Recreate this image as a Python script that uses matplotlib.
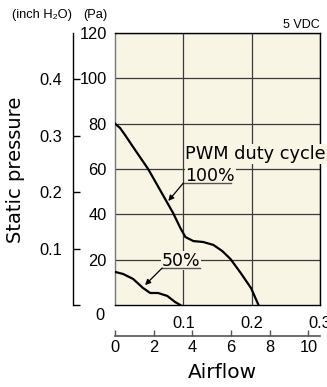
import matplotlib
matplotlib.use('Agg')
import matplotlib.pyplot as plt

plt.rcParams['font.family'] = ['Liberation Sans', 'DejaVu Sans']

# PWM 100% curve (airflow m3/min, static pressure Pa)
flow_100 = [0, 0.0074, 0.0147, 0.0265, 0.0485, 0.066, 0.085, 0.0956, 0.103,
            0.1147, 0.129, 0.144, 0.157, 0.169, 0.184, 0.199, 0.21]
pres_100 = [80, 78.1, 75, 69.7, 60, 50.7, 40.6, 34, 30,
            28.2, 27.8, 26.5, 23.8, 20.3, 14.1, 7.5, 0]
# PWM 50% curve
flow_50 = [0, 0.0118, 0.0265, 0.041, 0.0515, 0.063, 0.0765, 0.088, 0.0956]
pres_50 = [14.6, 13.7, 11.5, 7.5, 5.3, 5.3, 4.0, 1.3, 0]

pa_ticks = [20, 40, 60, 80, 100, 120]
inch_ticks = [0, 0.1, 0.2, 0.3, 0.4]
inch_labels = ['', '0.1', '0.2', '0.3', '0.4']
m3_ticks = [0.1, 0.2, 0.3]
cfm_ticks = [0, 2, 4, 6, 8, 10]

PA_PER_INCH = 249.09
M3_PER_CFM = 0.028317
bg = '#f8f5e5'

fig = plt.figure(figsize=(3.27, 3.87), dpi=100)
ax = fig.add_axes([115/327, 82/387, 205/327, 272/387])
ax.set_facecolor(bg)
ax.set_xlim(0, 0.3)
ax.set_ylim(0, 120)

ax.plot(flow_100, pres_100, color='k', lw=1.6, zorder=3)
ax.plot(flow_50, pres_50, color='k', lw=1.6, zorder=3)

# grid + frame
ax.set_yticks(pa_ticks)
ax.set_xticks(m3_ticks)
ax.grid(True, color='#3a3a3a', lw=0.9)
ax.set_axisbelow(True)
for s in ax.spines.values():
    s.set_linewidth(1.0)
ax.spines['left'].set_color('#777777')
ax.tick_params(axis='y', length=0, pad=6, labelsize=11.8)
ax.tick_params(axis='x', length=0, pad=8, labelsize=11.8)
fig.text(100/327, 1 - 316/387, '0', ha='center', va='center', fontsize=11.8)

# inch H2O axis
sec_y = ax.secondary_yaxis(-42/205, functions=(lambda p: p / PA_PER_INCH,
                                               lambda i: i * PA_PER_INCH))
sec_y.set_yticks(inch_ticks)
sec_y.set_yticklabels(inch_labels)
sec_y.tick_params(direction='in', length=5, width=1, pad=8, labelsize=11.8)
sec_y.spines['left'].set_linewidth(1.0)

# CFM axis
sec_x = ax.secondary_xaxis(-31/272, functions=(lambda m: m / M3_PER_CFM,
                                               lambda c: c * M3_PER_CFM))
sec_x.set_xticks(cfm_ticks)
sec_x.tick_params(direction='in', length=4, width=1, pad=3, labelsize=11.8,
                  color='#555555')
sec_x.spines['bottom'].set_color('#555555')
sec_x.spines['bottom'].set_linewidth(1.2)

# annotations
box = dict(facecolor=bg, edgecolor='none', pad=0.5)
ax.text(0.103, 66.6, 'PWM duty cycle', fontsize=12.8, family='DejaVu Sans',
        ha='left', va='center', bbox=box, clip_on=False, zorder=4)
ax.text(0.103, 54.9, '100%', fontsize=12.5, family='DejaVu Sans',
        ha='left', va='baseline', bbox=box, zorder=4)
ax.plot([0.100, 0.170], [53.8, 53.8], color='#555555', lw=1, zorder=5)
ax.annotate('', xy=(0.078, 45.9), xytext=(0.100, 53.8),
            arrowprops=dict(arrowstyle='-|>', color='k', lw=0.9,
                            mutation_scale=8, shrinkA=0, shrinkB=0), zorder=5)
ax.text(0.068, 17.3, '50%', fontsize=12.5, family='DejaVu Sans',
        ha='left', va='baseline', bbox=box, zorder=4)
ax.plot([0.069, 0.125], [16.3, 16.3], color='#555555', lw=1, zorder=5)
ax.annotate('', xy=(0.044, 8.8), xytext=(0.069, 16.3),
            arrowprops=dict(arrowstyle='-|>', color='k', lw=0.9,
                            mutation_scale=8, shrinkA=0, shrinkB=0), zorder=5)

# labels
fig.text(16/327, 1 - 170/387, 'Static pressure', rotation=90, ha='center',
         va='center', fontsize=14, family='DejaVu Sans')
fig.text(222/327, 1 - 372/387, 'Airflow', ha='center', va='center',
         fontsize=14.5, family='DejaVu Sans')
fig.text(12/327, 1 - 15/387, '(inch H\u2082O)', ha='left', va='center',
         fontsize=9.3)
fig.text(83/327, 1 - 15/387, '(Pa)', ha='left', va='center', fontsize=9.3)
fig.text(320/327, 1 - 25/387, '5 VDC', ha='right', va='center', fontsize=9)

fig.savefig('out.png', dpi=100)
